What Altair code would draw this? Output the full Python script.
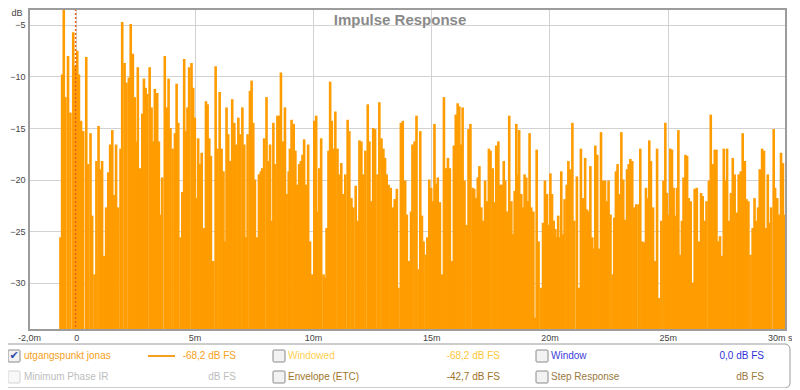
import altair as alt
import pandas as pd

# ---- data: peak times (ms) and levels (dB FS) ----
time_ms = [
    -0.67, -0.60, -0.53, -0.46, -0.35, -0.25, -0.13, -0.04, 0.04, 0.11, 0.20, 0.29, 0.42, 0.50, 0.60, 0.67, 0.77, 0.85, 0.94,
    1.02, 1.09, 1.18, 1.26, 1.35, 1.43, 1.52, 1.60, 1.68, 1.77, 1.87, 1.94,
    2.04, 2.12, 2.22, 2.30, 2.39, 2.47, 2.53, 2.60, 2.69, 2.79, 2.86, 2.93,
    3.00, 3.10, 3.18, 3.24, 3.32, 3.42, 3.49, 3.58, 3.63, 3.74, 3.82, 3.90, 3.98,
    4.07, 4.17, 4.24, 4.31, 4.41, 4.48, 4.56, 4.64, 4.70, 4.77, 4.87, 4.94,
    5.01, 5.08, 5.15, 5.23, 5.30, 5.40, 5.48, 5.55, 5.62, 5.69, 5.79, 5.89, 5.97,
    6.06, 6.14, 6.22, 6.29, 6.35, 6.42, 6.51, 6.59, 6.68, 6.75, 6.85, 6.92,
    7.02, 7.10, 7.17, 7.24, 7.34, 7.41, 7.48, 7.55, 7.64, 7.72, 7.80, 7.86, 7.94,
    8.04, 8.12, 8.19, 8.26, 8.33, 8.40, 8.50, 8.57, 8.65, 8.74, 8.82, 8.89, 8.98,
    9.03, 9.10, 9.19, 9.26, 9.34, 9.42, 9.49, 9.56, 9.63, 9.71, 9.80, 9.88, 9.97,
    10.06, 10.14, 10.22, 10.27, 10.35, 10.45, 10.53, 10.58, 10.66, 10.73, 10.80, 10.87, 10.95,
    11.04, 11.12, 11.20, 11.29, 11.37, 11.47, 11.54, 11.63, 11.71, 11.81, 11.90, 11.97,
    12.05, 12.13, 12.22, 12.32, 12.39, 12.46, 12.55, 12.63, 12.73, 12.81, 12.90, 12.98,
    13.05, 13.12, 13.20, 13.29, 13.38, 13.46, 13.55, 13.62, 13.72, 13.80, 13.90, 13.97,
    14.05, 14.15, 14.21, 14.30, 14.38, 14.47, 14.54, 14.61, 14.68, 14.78, 14.84, 14.92,
    15.00, 15.07, 15.14, 15.21, 15.28, 15.37, 15.45, 15.54, 15.62, 15.71, 15.79, 15.87, 15.96,
    16.04, 16.12, 16.19, 16.26, 16.33, 16.41, 16.50, 16.58, 16.66, 16.75, 16.82, 16.89, 16.97,
    17.04, 17.12, 17.20, 17.28, 17.37, 17.44, 17.51, 17.60, 17.68, 17.75, 17.84, 17.91, 17.99,
    18.07, 18.13, 18.22, 18.30, 18.39, 18.46, 18.53, 18.60, 18.67, 18.72, 18.81, 18.88, 18.95,
    19.02, 19.09, 19.16, 19.23, 19.32, 19.39, 19.46, 19.54, 19.64, 19.73, 19.81, 19.90, 19.97,
    20.04, 20.11, 20.18, 20.25, 20.32, 20.37, 20.43, 20.50, 20.57, 20.64, 20.73, 20.80, 20.88, 20.97,
    21.05, 21.16, 21.25, 21.33, 21.42, 21.51, 21.59, 21.66, 21.73, 21.81, 21.87, 21.94,
    22.02, 22.11, 22.18, 22.26, 22.35, 22.42, 22.50, 22.58, 22.67, 22.74, 22.81, 22.88, 22.95,
    23.04, 23.12, 23.20, 23.28, 23.35, 23.42, 23.50, 23.59, 23.67, 23.77, 23.84, 23.93,
    24.01, 24.08, 24.15, 24.22, 24.29, 24.38, 24.45, 24.55, 24.63, 24.73, 24.82, 24.90, 24.97,
    25.04, 25.11, 25.18, 25.25, 25.32, 25.39, 25.45, 25.53, 25.60, 25.67, 25.75, 25.82, 25.89, 25.97,
    26.06, 26.14, 26.23, 26.31, 26.41, 26.48, 26.56, 26.64, 26.74, 26.82, 26.90, 26.99,
    27.06, 27.13, 27.21, 27.30, 27.37, 27.44, 27.51, 27.58, 27.67, 27.75, 27.83, 27.93,
    28.00, 28.09, 28.17, 28.26, 28.33, 28.41, 28.50, 28.59, 28.67, 28.74, 28.82, 28.89, 28.99,
    29.07, 29.16, 29.23, 29.30, 29.37, 29.48, 29.54, 29.63, 29.71, 29.79, 29.87, 29.96,
]
level_db = [
    -25.6, -9.8, -3.0, -12.0, -8.0, -13.5, -5.7, -9.0, -7.5, -9.8, -14.3, -15.3, -8.1, -18.5, -15.5, -23.5, -29.2, -18.2, -14.8,
    -19.0, -18.2, -27.4, -22.7, -19.3, -16.6, -15.2, -21.5, -16.6, -22.7, -17.0, -4.7,
    -8.7, -10.6, -10.1, -4.9, -7.8, -12.0, -16.3, -9.1, -18.9, -13.6, -10.2, -11.1,
    -11.7, -9.1, -13.0, -16.3, -11.2, -11.6, -16.3, -23.4, -19.8, -8.0, -13.0, -10.2, -15.0,
    -17.0, -15.5, -10.7, -14.5, -25.6, -21.2, -8.3, -15.3, -13.0, -9.1, -8.7, -11.1,
    -14.0, -21.8, -16.0, -18.5, -17.4, -24.7, -12.4, -12.7, -16.0, -17.7, -27.9, -9.0, -17.0,
    -11.5, -17.0, -19.2, -26.0, -13.0, -15.6, -18.2, -12.2, -14.5, -16.6, -14.0, -15.6,
    -13.0, -16.6, -25.6, -15.6, -11.4, -10.4, -14.5, -20.0, -25.6, -19.5, -19.2, -18.9, -16.0,
    -12.0, -18.2, -16.6, -24.0, -14.5, -18.5, -13.8, -13.8, -9.6, -16.3, -13.0, -21.4, -19.2,
    -17.0, -14.2, -14.6, -17.2, -20.5, -18.5, -18.2, -17.6, -16.1, -20.5, -16.6, -26.0, -29.2,
    -14.3, -13.8, -23.1, -18.9, -16.0, -29.2, -29.5, -24.7, -17.2, -10.5, -14.3, -17.0, -13.4,
    -17.0, -19.5, -18.4, -21.4, -19.5, -14.2, -15.3, -21.8, -22.7, -20.6, -24.0, -16.2,
    -16.3, -19.5, -17.2, -12.7, -16.3, -22.1, -15.0, -15.1, -19.5, -12.5, -16.0, -17.0,
    -17.9, -19.5, -20.5, -20.8, -22.7, -21.9, -20.9, -30.5, -14.5, -14.3, -20.1, -23.4,
    -27.9, -23.1, -16.6, -16.3, -13.8, -28.7, -15.3, -23.5, -26.0, -27.3, -25.6, -20.0,
    -20.8, -22.1, -14.6, -20.4, -19.8, -22.2, -29.2, -12.0, -18.9, -17.9, -18.9, -27.9, -16.7,
    -13.7, -12.6, -12.9, -16.6, -13.0, -20.1, -24.4, -15.1, -14.6, -20.8, -20.9, -21.8, -19.8,
    -18.7, -22.7, -24.0, -20.1, -22.1, -17.0, -17.2, -18.9, -22.2, -16.7, -16.3, -20.5, -20.5,
    -18.2, -20.1, -23.1, -13.8, -22.1, -25.3, -21.1, -14.6, -19.5, -15.2, -21.4, -22.7, -19.5,
    -19.8, -22.1, -15.5, -22.7, -23.1, -33.4, -17.1, -26.0, -30.5, -24.2, -20.1, -21.4, -24.4,
    -19.4, -21.4, -24.0, -24.8, -25.6, -23.5, -25.6, -19.2, -25.3, -21.9, -20.5, -18.2, -19.0, -14.5,
    -24.0, -19.7, -30.5, -17.0, -21.8, -17.9, -22.9, -23.1, -18.7, -25.6, -26.7, -16.7,
    -17.6, -26.7, -15.4, -20.1, -20.1, -22.1, -20.1, -23.4, -29.2, -23.7, -19.2, -18.5, -21.4,
    -15.4, -20.0, -23.9, -19.0, -18.5, -18.0, -18.2, -22.7, -22.4, -22.4, -17.0, -26.0,
    -26.1, -20.8, -21.8, -16.2, -18.2, -22.7, -27.9, -17.0, -31.5, -24.0, -20.1, -14.5, -21.3,
    -23.4, -17.0, -17.1, -20.8, -23.5, -20.8, -15.2, -27.3, -24.0, -19.8, -17.6, -17.7, -21.8, -22.1,
    -30.0, -20.9, -20.8, -26.0, -21.3, -21.6, -24.0, -22.1, -20.1, -13.7, -18.5, -17.1,
    -17.1, -26.0, -25.5, -27.4, -17.0, -20.1, -17.0, -24.0, -21.3, -17.9, -19.5, -23.2,
    -19.5, -19.2, -15.5, -18.2, -21.9, -22.1, -27.3, -24.7, -21.8, -24.0, -22.7, -19.0, -17.0,
    -17.2, -24.7, -19.5, -24.2, -22.7, -15.1, -20.8, -21.8, -23.4, -17.4, -18.4, -23.4,
]

marker_ms = [-0.03]
x_ticks = [-2, 0, 5, 10, 15, 20, 25, 30]
y_ticks = [-5, -10, -15, -20, -25, -30]
x_domain = [-2, 30]
y_domain = [-34.6, -3.45]

FONT = "Liberation Sans"
W, H = 757, 321
OX, OY = 29, 9  # plot origin on the page


def px(x):
    return x - OX


def py(y):
    return y - OY


one = pd.DataFrame({"k": [0]})


def text(s, x, y, color, size=10, align="left", weight="normal", font=FONT):
    return alt.Chart(one).mark_text(
        text=s, align=align, baseline="middle", fontSize=size, color=color,
        font=font, fontWeight=weight
    ).encode(x=alt.value(px(x)), y=alt.value(py(y)))


def box(x1, y1, x2, y2, fill, stroke, radius=0, sw=1.0):
    return alt.Chart(one).mark_rect(
        fill=fill, stroke=stroke, strokeWidth=sw, cornerRadius=radius
    ).encode(x=alt.value(px(x1)), x2=alt.value(px(x2)),
             y=alt.value(py(y1)), y2=alt.value(py(y2)))


df = pd.DataFrame({"t": time_ms, "db": level_db})

x_enc = alt.X(
    "t:Q",
    scale=alt.Scale(domain=x_domain, nice=False, zero=False),
    axis=alt.Axis(
        values=x_ticks, title=None, grid=True, gridColor="#d2d2d2", domain=False,
        ticks=False, labelFontSize=9, labelColor="#444444", labelFont=FONT,
        labelPadding=3, labelBound=False, labelFlush=False,
        labelAlign={"condition": {"test": "datum.value == 30", "value": "right"}, "value": "center"},
        labelOffset={"condition": {"test": "datum.value == 30", "value": 6}, "value": 0},
        labelExpr="datum.value == -2 ? '-2,0m' : datum.value == 0 ? '0' : datum.value == 30 ? '30m s' : datum.value + 'm'",
    ),
)
y_enc = alt.Y(
    "db:Q",
    scale=alt.Scale(domain=y_domain, nice=False, zero=False),
    axis=alt.Axis(
        values=y_ticks, title=None, grid=True, gridColor="#d2d2d2", domain=False,
        ticks=False, labelFontSize=9, labelColor="#444444", labelFont=FONT,
        labelPadding=4,
    ),
)

spikes = alt.Chart(df).mark_rule(clip=True, color="#FF9C00", strokeWidth=2.6).encode(
    x=x_enc, y=y_enc, y2=alt.value(H)
)

marker = alt.Chart(pd.DataFrame({"t": marker_ms})).mark_rule(
    color="#E8601C", strokeDash=[2, 2], strokeWidth=1.5
).encode(x=alt.X("t:Q"), y=alt.value(0), y2=alt.value(H))

frame = alt.Chart(one).mark_rect(fill="transparent", stroke="#9c9c9c", strokeWidth=2).encode(
    x=alt.value(0), x2=alt.value(W), y=alt.value(0), y2=alt.value(H)
)

title = text("Impulse Response", 400, 20, "#8a8a8a", size=15, align="center", weight="bold")
db_lab = text("dB", 17, 13, "#444444", size=9, align="center")

# legend panel
ORANGE = "#F5A020"
legend = [
    box(2, 344, 790, 388, "white", "#9a9a9a", radius=5, sw=1),
    # row 1
    box(8, 350, 20, 362, "#f2f2f2", "#8a8a8a", radius=1),
    text("\u2714", 14, 356, "#3050A8", size=11, align="center", font="DejaVu Sans"),
    text("utgangspunkt jonas", 24, 356, ORANGE),
    alt.Chart(one).mark_rule(color=ORANGE, strokeWidth=2).encode(
        x=alt.value(px(148)), x2=alt.value(px(175)), y=alt.value(py(356))),
    text("-68,2 dB FS", 236, 356, ORANGE, align="right"),
    box(273, 350, 285, 362, "#f2f2f2", "#8a8a8a", radius=1),
    text("Windowed", 288, 356, "#FFD050"),
    text("-68,2 dB FS", 500, 356, "#FFC838", align="right"),
    box(536, 350, 548, 362, "#f2f2f2", "#8a8a8a", radius=1),
    text("Window", 551, 356, "#4040DD"),
    text("0,0 dB FS", 764, 356, "#3030DD", align="right"),
    # row 2
    box(8, 371, 20, 383, "#f8f8f8", "#d4d4d4", radius=1),
    text("Minimum Phase IR", 24, 377, "#BDBDBD"),
    text("dB FS", 236, 377, "#BDBDBD", align="right"),
    box(273, 371, 285, 383, "#f2f2f2", "#8a8a8a", radius=1),
    text("Envelope (ETC)", 288, 377, "#A07428"),
    text("-42,7 dB FS", 500, 377, "#A07428", align="right"),
    box(536, 371, 548, 383, "#f2f2f2", "#8a8a8a", radius=1),
    text("Step Response", 551, 377, "#9A7840"),
    text("dB FS", 764, 377, "#9A7840", align="right"),
]

chart = alt.layer(spikes, marker, frame, title, db_lab, *legend).properties(
    width=W, height=H,
    padding={"left": OX - 8, "top": OY - 8, "right": 6, "bottom": 58},
    autosize=alt.AutoSizeParams(type="none"),
    background="white",
).configure_view(stroke=None)

chart.save("out.html", embed_options={"renderer": "svg", "actions": False})
